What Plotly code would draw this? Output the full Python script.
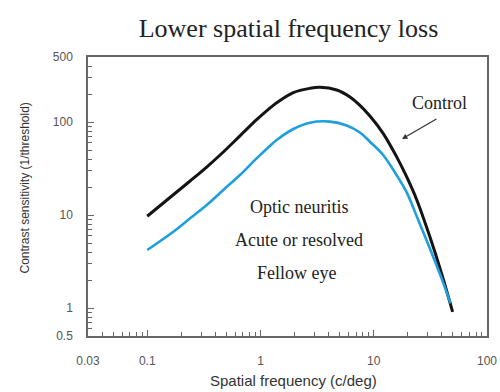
import plotly.graph_objects as go

# Data
control_x = [0.1, 0.170, 0.239, 0.335, 0.470, 0.659, 0.925, 1.21, 1.39, 1.95, 2.73,
             3.35, 4.71, 6.17, 7.55, 9.25, 12.1, 15.9, 19.5, 23.9, 31.3, 39.7, 49.7]
control_y = [9.7, 16.5, 23.2, 32.8, 47.6, 71.0, 106, 141, 161, 207, 230,
             236, 221, 186, 151, 116, 75.6, 42.4, 25.8, 14.7, 5.84, 2.36, 0.91]

fellow_x = [0.1, 0.170, 0.239, 0.335, 0.470, 0.659, 0.925, 1.21, 1.39, 1.95, 2.73,
            4.10, 5.77, 7.55, 9.25, 12.1, 15.9, 19.5, 23.9, 31.3, 39.7, 47.7]
fellow_y = [4.2, 6.61, 9.22, 12.8, 18.6, 26.9, 40.7, 55.2, 64.0, 84.1, 98.4,
            101, 91.7, 77.1, 61.4, 44.2, 26.9, 17.6, 9.77, 4.37, 2.09, 1.12]

x_tickvals = [0.03, 0.1, 1, 10, 100]
x_ticktext = ["0.03", "0.1", "1", "10", "100"]
y_tickvals = [0.5, 1, 10, 100, 500]
y_ticktext = ["0.5", "1", "10", "100", "500"]

x_minor = [0.04, 0.05, 0.06, 0.07, 0.08, 0.09,
           0.2, 0.3, 0.4, 0.5, 0.6, 0.7, 0.8, 0.9,
           2, 3, 4, 5, 6, 7, 8, 9,
           20, 30, 40, 50, 60, 70, 80, 90]
y_minor = [0.6, 0.7, 0.8, 0.9, 2, 3, 4, 5, 6, 7, 8, 9,
           20, 30, 40, 50, 60, 70, 80, 90, 200, 300, 400]

fig = go.Figure()
fig.add_trace(go.Scatter(x=control_x, y=control_y, mode="lines",
                         line=dict(color="#141414", width=3, shape="spline", smoothing=1.0),
                         showlegend=False))
fig.add_trace(go.Scatter(x=fellow_x, y=fellow_y, mode="lines",
                         line=dict(color="#1e9fdc", width=2.6, shape="spline", smoothing=1.0),
                         showlegend=False))

axis_common = dict(showline=True, linecolor="#666666", linewidth=1.5, mirror=True,
                   showgrid=False, zeroline=False, ticks="inside", ticklen=6,
                   tickcolor="#666666", tickwidth=1, automargin=False,
                   tickfont=dict(family="Liberation Sans, Arial", size=12, color="#555"))

fig.update_xaxes(type="log", range=[-1.5229, 2], tickmode="array",
                 tickvals=x_tickvals, ticktext=x_ticktext, ticklabelstandoff=13,
                 minor=dict(tickmode="array", tickvals=x_minor, ticks="inside",
                            ticklen=4, tickcolor="#666666", tickwidth=1),
                 **axis_common)
fig.update_yaxes(type="log", range=[-0.30103, 2.69897], tickmode="array",
                 tickvals=y_tickvals, ticktext=y_ticktext, ticklabelstandoff=11,
                 minor=dict(tickmode="array", tickvals=y_minor, ticks="inside",
                            ticklen=4, tickcolor="#666666", tickwidth=1),
                 **axis_common)

sans_title = dict(family="Liberation Sans, Arial", color="#333")
center = dict(xanchor="center", yanchor="middle", showarrow=False,
              xref="paper", yref="paper")
fig.add_annotation(x=0.514, y=-0.158, text="Spatial frequency (c/deg)",
                   font=dict(size=15, **sans_title), **center)
fig.add_annotation(x=-0.158, y=0.532, textangle=-90,
                   text="Contrast sensitivity (1/threshold)",
                   font=dict(size=12, **sans_title), **center)

serif = dict(family="Liberation Serif, Times New Roman", size=18, color="#222")
fig.add_annotation(x=0.53, y=0.462, text="Optic neuritis", font=serif, **center)
fig.add_annotation(x=0.53, y=0.344, text="Acute or resolved", font=serif, **center)
fig.add_annotation(x=0.523, y=0.226, text="Fellow eye", font=serif, **center)
fig.add_annotation(x=0.880, y=0.835, text="Control", font=serif, **center)
fig.add_annotation(x=0.787, y=0.706, ax=0.877, ay=0.781, xref="x domain", yref="y domain",
                   axref="x domain", ayref="y domain", text="", showarrow=True,
                   arrowhead=2, arrowsize=0.9, arrowwidth=1.2, arrowcolor="#333")

fig.update_layout(
    width=500, height=392,
    margin=dict(l=88, r=13, t=57, b=56),
    paper_bgcolor="white", plot_bgcolor="white",
    title=dict(text="Lower spatial frequency loss", x=0.577, xanchor="center",
               y=0.93, yanchor="middle",
               font=dict(family="Liberation Serif, Times New Roman", size=26, color="#222")),
)

fig.write_html("out.html")
